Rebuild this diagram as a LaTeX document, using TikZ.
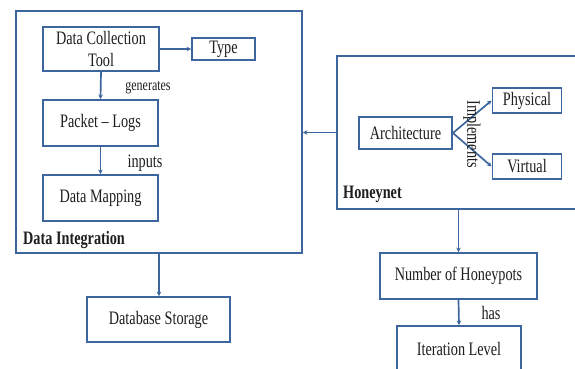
\documentclass[tikz,border=0pt]{standalone}
\usepackage{fontspec}
\setmainfont[FakeStretch=0.75]{Liberation Serif}
\usetikzlibrary{arrows.meta}
\definecolor{linkblue}{RGB}{62,102,158}
\definecolor{inkgray}{RGB}{30,30,30}
\tikzset{
  box/.style={draw=linkblue, line width=1.8pt, fill=white, inner sep=0pt,
    text=inkgray, font=\fontsize{19}{22}\selectfont, align=center},
  link/.style={draw=linkblue, line width=1.7pt,
    -{Stealth[length=4.5pt,width=4.5pt]}},
  tag/.style={text=inkgray, font=\fontsize{19}{20}\selectfont, inner sep=0pt},
  title/.style={text=inkgray, font=\fontsize{19}{20}\selectfont\bfseries, inner sep=0pt, anchor=west}
}
\begin{document}
\begin{tikzpicture}[x=1pt, y=-1pt]
\useasboundingbox (0,0) rectangle (575,369);
\clip (0,0) rectangle (575,369);
\fill[white] (0,0) rectangle (575,369);

% Data integration group
\node[box, minimum width=286pt, minimum height=242pt] (di) at (159,132) {};
\node[box, minimum width=116pt, minimum height=44pt] (dct) at (101,49) {Data Collection\\Tool};
\node[box, minimum width=63pt, minimum height=22pt] (type) at (223.5,49) {Type};
\node[box, minimum width=115pt, minimum height=46pt] (pl) at (100.5,123) {Packet -- Logs};
\node[box, minimum width=115pt, minimum height=46pt] (dm) at (100.5,198) {Data Mapping};
\node[title] (dilabel) at (23,240) {Data Integration};

% Honeynet group
\node[box, minimum width=253pt, minimum height=153pt] (hon) at (463.5,132.5) {};
\node[box, minimum width=93pt, minimum height=32pt] (arch) at (405.5,133) {Architecture};
\node[box, minimum width=69pt, minimum height=25pt] (phys) at (527,100.5) {Physical};
\node[box, minimum width=69pt, minimum height=25pt] (virt) at (527,166.5) {Virtual};
\node[title] (honlabel) at (343,194) {Honeynet};

% Outer boxes
\node[box, minimum width=143pt, minimum height=45pt] (db) at (158.5,319.5) {Database Storage};
\node[box, minimum width=157pt, minimum height=46pt] (noh) at (458.5,276) {Number of Honeypots};
\node[box, minimum width=124pt, minimum height=46pt] (il) at (459,349) {Iteration Level};

% Connectors
\draw[link] (dct.east) -- (type.west);
\draw[link] (dct.south) -- (pl.north);
\draw[link] (pl.south) -- (dm.north);
\draw[link] (hon.west) -- (hon.west -| di.east);
\draw[link] (arch.east) -- (phys.west);
\draw[link] (arch.east) -- (virt.west);
\draw[link] (di.south) -- (di.south |- db.north);
\draw[link] (noh.north |- hon.south) -- (noh.north);
\draw[link] (noh.south) -- (il.north);

% Connector labels
\node[tag, font=\fontsize{16}{17}\selectfont] (lgen) at (148,88) {generates};
\node[tag] (linp) at (145,163) {inputs};
\node[tag] (lhas) at (491,313) {has};
\node[tag, rotate=-90] (limp) at (472,134) {Implements};
\end{tikzpicture}
\end{document}
